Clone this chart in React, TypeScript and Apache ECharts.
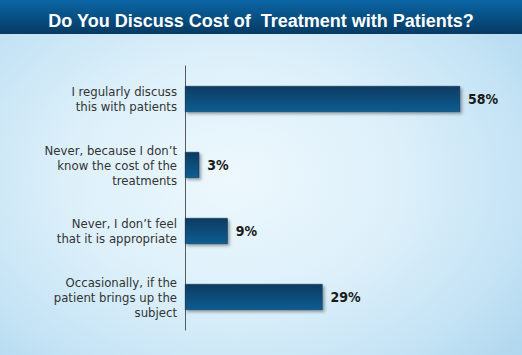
import React, { useEffect, useRef } from "react";
import * as echarts from "echarts";

const titleText = "Do You Discuss Cost of  Treatment with Patients?";
const categories = [
  "I regularly discuss\nthis with patients",
  "Never, because I don\u2019t\nknow the cost of the\ntreatments",
  "Never, I don\u2019t feel\nthat it is appropriate",
  "Occasionally, if the\npatient brings up the\nsubject",
];
const values = [58, 3, 9, 29];

export default function App() {
  const ref = useRef<HTMLDivElement>(null);
  useEffect(() => {
    if (!ref.current) return;
    const chart = echarts.init(ref.current, null, { renderer: "svg" });
    chart.setOption({
      animation: false,
      backgroundColor: "transparent",
      graphic: [
        {
          type: "rect",
          left: 0,
          top: 0,
          z: -1,
          shape: { width: 522, height: 34 },
          style: {
            fill: new echarts.graphic.LinearGradient(0, 0, 0, 1, [
              { offset: 0, color: "#0b66a6" },
              { offset: 1, color: "#063a62" },
            ]),
          },
        },
      ],
      title: {
        text: titleText,
        left: "center",
        top: 7,
        textStyle: {
          color: "#ffffff",
          fontFamily: "Liberation Sans, Arial, sans-serif",
          fontWeight: "bold",
          fontSize: 18,
        },
      },
      grid: { left: 185, right: 5, top: 66, height: 264, containLabel: false },
      xAxis: {
        type: "value",
        min: 0,
        max: 70,
        show: false,
        splitLine: { show: false },
      },
      yAxis: {
        type: "category",
        inverse: true,
        data: categories,
        axisLine: { show: true, lineStyle: { color: "#5a5a5a", width: 1 } },
        axisTick: { show: false },
        axisLabel: {
          margin: 8,
          color: "#333333",
          fontFamily: "DejaVu Sans Condensed, sans-serif",
          fontSize: 13,
          lineHeight: 15,
          align: "right",
        },
      },
      series: [
        {
          type: "bar",
          data: values,
          barWidth: 26,
          itemStyle: {
            color: new echarts.graphic.LinearGradient(0, 0, 0, 1, [
              { offset: 0, color: "#093b62" },
              { offset: 1, color: "#0f5d91" },
            ]),
            borderColor: "#082c48",
            borderWidth: 0.5,
            shadowColor: "rgba(0,0,0,0.35)",
            shadowBlur: 3,
            shadowOffsetX: 2,
            shadowOffsetY: 2,
          },
          label: {
            show: true,
            position: "right",
            distance: 8,
            formatter: "{c}%",
            color: "#1a1a1a",
            fontFamily: "DejaVu Sans Condensed, sans-serif",
            fontWeight: "bold",
            fontSize: 14,
          },
        },
      ],
    });
    return () => chart.dispose();
  }, []);
  return (
    <div
      ref={ref}
      style={{
        position: "absolute",
        left: 0,
        top: 0,
        width: 522,
        height: 355,
        background:
          "radial-gradient(ellipse 70% 75% at 45% 50%, #edf8fd 0%, #ddf0fa 45%, #c4e3f5 80%, #b2d8ef 100%)",
      }}
    />
  );
}
